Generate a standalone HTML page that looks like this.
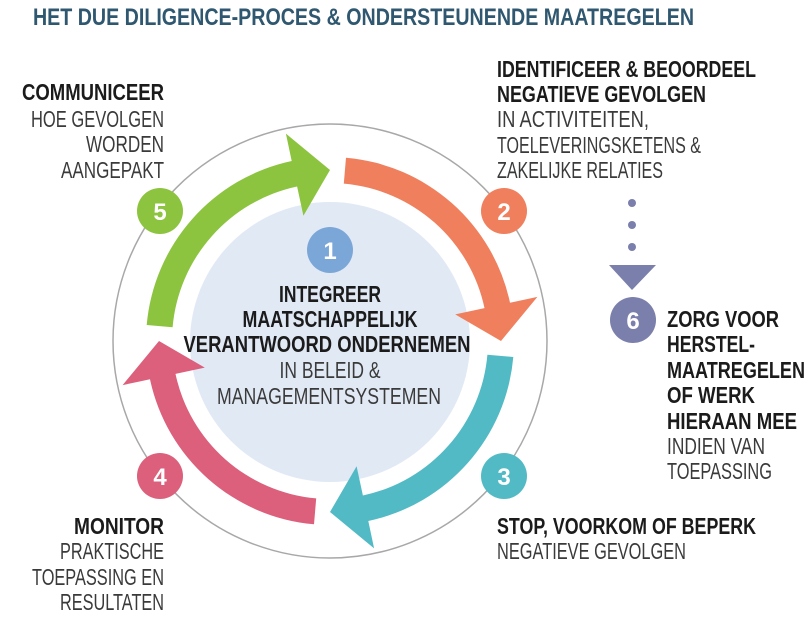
<!DOCTYPE html>
<html><head><meta charset="utf-8"><style>
html,body{margin:0;padding:0;background:#fff;}
svg{display:block;font-family:"Liberation Sans",sans-serif;}
.b{font-weight:bold;fill:#1b1b1b;font-size:23px;}
.r{fill:#3a3a3a;font-size:23px;}
.n{fill:#fff;font-weight:bold;font-size:24px;text-anchor:middle;}
</style></head><body>
<svg id="s" width="810" height="620" viewBox="0 0 810 620" xmlns="http://www.w3.org/2000/svg">
<text x="33" y="25" font-size="24" font-weight="bold" fill="#2f5870" textLength="661" lengthAdjust="spacingAndGlyphs">HET DUE DILIGENCE-PROCES &amp; ONDERSTEUNENDE MAATREGELEN</text>
<circle cx="330" cy="341" r="217" fill="none" stroke="#a8a8a8" stroke-width="1.5"/>
<circle cx="330" cy="342" r="140" fill="#e1e9f5"/>
<g id="arrows"></g>
<circle cx="330" cy="250" r="23" fill="#7ba7d8"/><text class="n" x="330" y="259">1</text>
<circle cx="160" cy="211" r="23" fill="#8cc43f"/><text class="n" x="160" y="220">5</text>
<circle cx="504" cy="211" r="23" fill="#f07f5d"/><text class="n" x="504" y="220">2</text>
<circle cx="504" cy="476" r="23" fill="#52bac5"/><text class="n" x="504" y="485">3</text>
<circle cx="160" cy="476" r="23" fill="#dc5f7c"/><text class="n" x="160" y="485">4</text>
<circle cx="633" cy="320" r="23" fill="#7a7fab"/><text class="n" x="633" y="329">6</text>
<circle cx="632" cy="203" r="4" fill="#7a7fab"/><circle cx="632" cy="225" r="4" fill="#7a7fab"/><circle cx="632" cy="247" r="4" fill="#7a7fab"/>
<polygon points="609,265 656,265 632,290" fill="#7a7fab"/>

<g text-anchor="middle">
<text class="b" x="330" y="302" textLength="102" lengthAdjust="spacingAndGlyphs">INTEGREER</text>
<text class="b" x="330" y="327" textLength="175" lengthAdjust="spacingAndGlyphs">MAATSCHAPPELIJK</text>
<text class="b" x="327" y="352" textLength="287" lengthAdjust="spacingAndGlyphs">VERANTWOORD ONDERNEMEN</text>
<text class="r" x="330" y="378" textLength="101" lengthAdjust="spacingAndGlyphs">IN BELEID &amp;</text>
<text class="r" x="329" y="404" textLength="224" lengthAdjust="spacingAndGlyphs">MANAGEMENTSYSTEMEN</text>
</g>

<g text-anchor="end">
<text class="b" x="164" y="100" textLength="142" lengthAdjust="spacingAndGlyphs">COMMUNICEER</text>
<text class="r" x="164" y="127" textLength="133" lengthAdjust="spacingAndGlyphs">HOE GEVOLGEN</text>
<text class="r" x="164" y="152" textLength="78" lengthAdjust="spacingAndGlyphs">WORDEN</text>
<text class="r" x="164" y="178" textLength="103" lengthAdjust="spacingAndGlyphs">AANGEPAKT</text>
<text class="b" x="164" y="534" textLength="90" lengthAdjust="spacingAndGlyphs">MONITOR</text>
<text class="r" x="164" y="559" textLength="104" lengthAdjust="spacingAndGlyphs">PRAKTISCHE</text>
<text class="r" x="164" y="585" textLength="132" lengthAdjust="spacingAndGlyphs">TOEPASSING EN</text>
<text class="r" x="164" y="610" textLength="104" lengthAdjust="spacingAndGlyphs">RESULTATEN</text>
</g>

<text class="b" x="497" y="77" textLength="259" lengthAdjust="spacingAndGlyphs">IDENTIFICEER &amp; BEOORDEEL</text>
<text class="b" x="497" y="102" textLength="209" lengthAdjust="spacingAndGlyphs">NEGATIEVE GEVOLGEN</text>
<text class="r" x="497" y="127" textLength="152" lengthAdjust="spacingAndGlyphs">IN ACTIVITEITEN,</text>
<text class="r" x="497" y="153" textLength="204" lengthAdjust="spacingAndGlyphs">TOELEVERINGSKETENS &amp;</text>
<text class="r" x="497" y="178" textLength="166" lengthAdjust="spacingAndGlyphs">ZAKELIJKE RELATIES</text>

<text class="b" x="497" y="534" textLength="259" lengthAdjust="spacingAndGlyphs">STOP, VOORKOM OF BEPERK</text>
<text class="r" x="497" y="559" textLength="189" lengthAdjust="spacingAndGlyphs">NEGATIEVE GEVOLGEN</text>

<text class="b" x="667" y="327" textLength="112" lengthAdjust="spacingAndGlyphs">ZORG VOOR</text>
<text class="b" x="667" y="352" textLength="88" lengthAdjust="spacingAndGlyphs">HERSTEL-</text>
<text class="b" x="667" y="378" textLength="138" lengthAdjust="spacingAndGlyphs">MAATREGELEN</text>
<text class="b" x="667" y="403" textLength="88" lengthAdjust="spacingAndGlyphs">OF WERK</text>
<text class="b" x="667" y="429" textLength="130" lengthAdjust="spacingAndGlyphs">HIERAAN MEE</text>
<text class="r" x="667" y="454" textLength="98" lengthAdjust="spacingAndGlyphs">INDIEN VAN</text>
<text class="r" x="667" y="479" textLength="105" lengthAdjust="spacingAndGlyphs">TOEPASSING</text>
</svg>
<script>
(function(){
var cx=330,cy=341,r1=158,r2=184,rm=171,h1=128,h2=212;
function p(r,a){a=a*Math.PI/180;return (cx+r*Math.cos(a)).toFixed(1)+","+(cy+r*Math.sin(a)).toFixed(1);}
var defs=[[185,"#8cc43f"],[275,"#f07f5d"],[5,"#52bac5"],[95,"#dc5f7c"]];
var g=document.getElementById("arrows"),out="";
defs.forEach(function(d){
 var a0=d[0],a1=a0+73,a2=a0+85;
 var s="M"+p(r2,a0)+" A"+r2+","+r2+" 0 0 1 "+p(r2,a1)+" L"+p(h2,a1)+" L"+p(rm,a2)+" L"+p(h1,a1)+" L"+p(r1,a1)+" A"+r1+","+r1+" 0 0 0 "+p(r1,a0)+" Z";
 out+='<path d="'+s+'" fill="'+d[1]+'"/>';
});
g.innerHTML=out;
})();
</script>
</body></html>
